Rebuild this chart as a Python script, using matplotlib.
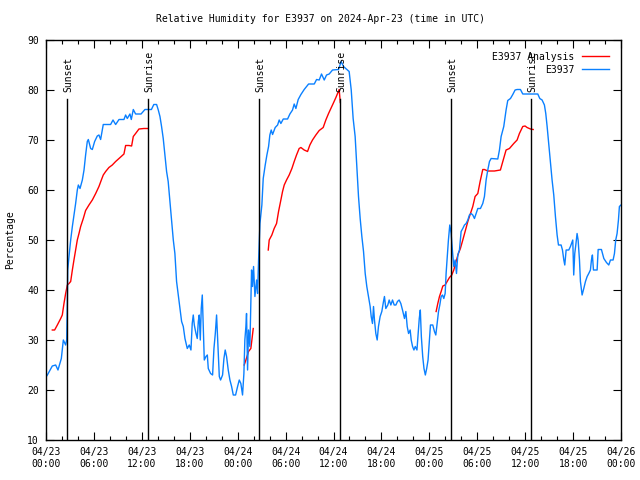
import numpy as np
import matplotlib
matplotlib.use("Agg")
import matplotlib.pyplot as plt
from matplotlib.ticker import MultipleLocator

title = "Relative Humidity for E3937 on 2024-Apr-23 (time in UTC)"
ylabel = "Percentage"

# hours since 2024-04-23 00:00 UTC
obs_hours = [0.0, 0.17, 0.79, 1.21, 1.5, 1.92, 2.17, 2.46, 2.59, 2.67, 2.72, 2.88, 3.09, 3.3, 3.5, 3.71, 3.92, 4.05, 4.26, 4.55, 4.76, 4.96, 5.17, 5.3, 5.59, 5.8, 6.09, 6.42, 6.63, 6.84, 7.17, 8.09, 8.39, 8.72, 9.14, 9.76, 9.97, 10.18, 10.51, 10.68, 10.93, 11.22, 11.9, 12.39, 13.2, 13.5, 13.85, 14.06, 14.27, 14.47, 14.68, 14.89, 15.1, 15.3, 15.52, 15.73, 15.94, 16.14, 16.35, 16.56, 16.77, 16.98, 17.19, 17.4, 17.69, 17.94, 18.15, 18.31, 18.44, 18.57, 18.78, 18.94, 19.07, 19.19, 19.32, 19.44, 19.57, 19.69, 19.82, 20.03, 20.2, 20.32, 20.61, 20.86, 21.03, 21.2, 21.36, 21.53, 21.7, 21.86, 22.11, 22.28, 22.44, 22.61, 22.82, 23.03, 23.24, 23.45, 23.74, 23.99, 24.2, 24.4, 24.61, 24.78, 24.9, 25.03, 25.11, 25.24, 25.36, 25.53, 25.65, 25.74, 25.86, 25.99, 26.16, 26.37, 26.49, 26.62, 26.7, 26.79, 27.03, 27.2, 27.45, 27.66, 27.87, 28.03, 28.2, 28.37, 28.7, 29.0, 29.2, 29.41, 29.71, 30.25, 30.54, 30.87, 31.08, 31.29, 31.58, 31.92, 32.33, 32.63, 32.88, 33.59, 33.88, 34.21, 34.5, 34.84, 35.13, 35.46, 35.88, 36.63, 36.96, 37.25, 37.67, 37.96, 38.22, 38.46, 38.71, 38.92, 39.13, 39.34, 39.55, 39.76, 39.97, 40.17, 40.38, 40.59, 40.72, 40.88, 41.01, 41.13, 41.3, 41.47, 41.63, 41.84, 42.05, 42.26, 42.38, 42.55, 42.8, 42.97, 43.18, 43.39, 43.6, 43.81, 44.01, 44.22, 44.43, 44.64, 44.89, 45.06, 45.23, 45.4, 45.6, 45.73, 45.9, 46.07, 46.24, 46.45, 46.58, 46.74, 46.87, 47.0, 47.17, 47.33, 47.5, 47.67, 47.84, 48.01, 48.14, 48.43, 48.64, 48.81, 48.98, 49.15, 49.31, 49.48, 49.65, 49.81, 49.98, 50.1, 50.23, 50.39, 50.56, 50.73, 50.9, 51.06, 51.23, 51.4, 51.56, 51.77, 51.98, 52.19, 52.4, 52.61, 52.82, 53.02, 53.23, 53.44, 53.65, 53.86, 54.07, 54.4, 54.69, 54.9, 55.11, 55.32, 55.53, 55.74, 56.57, 56.78, 56.99, 57.32, 57.61, 57.82, 58.16, 58.45, 58.74, 58.99, 59.41, 59.7, 61.58, 61.83, 62.12, 62.41, 62.58, 62.75, 62.95, 63.16, 63.37, 63.58, 63.79, 64.0, 64.17, 64.5, 64.67, 64.84, 64.96, 65.13, 65.46, 65.67, 65.96, 66.08, 66.21, 66.34, 66.5, 66.63, 66.8, 66.92, 67.13, 67.34, 67.55, 67.76, 67.96, 68.17, 68.3, 68.42, 68.55, 69.01, 69.14, 69.55, 69.85, 70.18, 70.47, 70.68, 71.01, 71.18, 71.34, 71.51, 71.68, 71.8, 72.0]
obs_values = [22.6, 23.0, 24.8, 25.0, 24.0, 26.3, 30.0, 29.0, 30.0, 37.3, 44.0, 46.7, 50.0, 52.7, 55.0, 57.3, 60.0, 61.0, 60.3, 62.0, 64.0, 67.0, 69.7, 70.1, 68.3, 68.1, 69.7, 70.8, 71.0, 70.1, 73.1, 73.1, 74.0, 73.1, 74.1, 74.1, 75.0, 74.3, 75.2, 74.1, 76.1, 75.2, 75.2, 76.1, 76.1, 77.1, 77.1, 76.0, 74.7, 72.7, 70.3, 67.0, 63.7, 61.7, 57.7, 54.0, 50.0, 47.3, 41.7, 39.0, 36.3, 33.7, 32.7, 30.3, 28.3, 29.0, 28.0, 33.3, 35.0, 33.0, 31.3, 30.3, 33.7, 35.0, 30.0, 36.3, 39.0, 33.0, 26.0, 26.7, 27.0, 24.3, 23.3, 23.0, 28.3, 31.3, 35.0, 29.0, 22.7, 22.0, 23.0, 26.3, 28.0, 26.7, 24.0, 22.0, 20.7, 19.0, 19.0, 20.7, 22.0, 21.3, 19.0, 23.3, 30.0, 32.7, 35.3, 24.0, 32.0, 28.7, 38.0, 44.0, 40.7, 44.7, 38.7, 42.0, 39.3, 46.0, 49.3, 53.3, 57.0, 62.3, 65.0, 67.0, 68.7, 71.0, 72.0, 71.1, 72.5, 73.0, 74.0, 73.3, 74.2, 74.2, 75.2, 76.0, 77.2, 76.3, 78.1, 79.1, 80.1, 80.7, 81.2, 81.2, 82.1, 82.0, 83.2, 82.0, 83.0, 83.2, 84.0, 84.1, 85.7, 84.7, 84.1, 83.7, 80.0, 74.3, 70.7, 64.7, 58.7, 54.3, 50.7, 47.7, 43.3, 40.7, 38.7, 36.7, 34.7, 33.3, 36.7, 34.0, 31.3, 30.0, 32.7, 34.7, 35.7, 37.7, 38.7, 36.3, 37.0, 38.0, 37.0, 38.0, 37.0, 37.0, 37.7, 38.0, 37.3, 36.0, 34.3, 35.7, 32.7, 31.3, 32.0, 30.0, 28.7, 28.0, 28.7, 28.0, 30.7, 34.3, 36.0, 30.7, 26.7, 24.3, 23.0, 24.3, 26.0, 30.0, 33.0, 33.0, 31.7, 31.0, 33.3, 35.7, 37.0, 38.7, 39.0, 38.3, 39.3, 43.3, 46.3, 50.0, 53.0, 51.3, 47.7, 44.7, 46.0, 43.3, 47.0, 48.0, 51.7, 52.3, 53.0, 53.3, 54.0, 55.0, 55.3, 55.0, 54.3, 55.3, 56.3, 56.3, 57.3, 58.7, 62.0, 64.0, 65.7, 66.3, 66.2, 68.0, 70.7, 72.7, 76.0, 77.9, 78.3, 79.1, 80.0, 80.1, 80.1, 79.2, 79.2, 78.3, 78.0, 77.0, 75.3, 72.7, 69.3, 65.7, 62.0, 59.0, 54.7, 51.0, 49.0, 49.0, 48.0, 46.0, 45.0, 48.0, 48.0, 48.7, 50.0, 43.0, 47.3, 49.0, 51.3, 50.0, 46.0, 41.7, 39.0, 40.3, 41.7, 42.7, 43.3, 44.0, 46.0, 47.0, 44.0, 44.0, 48.1, 48.1, 46.3, 45.5, 45.0, 46.0, 46.0, 47.3, 50.0, 51.3, 54.0, 56.7, 57.0]

# analysis series (NaN = gap)
nan = float("nan")
ana_hours = [0.79, 1.08, 1.42, 1.84, 2.04, 2.25, 2.46, 2.67, 2.88, 3.09, 3.3, 3.5, 3.71, 3.92, 4.13, 4.34, 4.67, 4.96, 5.38, 5.8, 6.22, 6.63, 6.93, 7.17, 7.47, 7.88, 8.3, 8.72, 9.14, 9.76, 9.97, 10.39, 10.72, 10.93, 11.22, 11.64, 12.26, 12.8,
             18.0,
             24.82, 25.03, 25.36, 25.65, 25.78, 25.95,
             27.0,
             27.83, 27.95, 28.28, 28.57, 28.87, 29.12, 29.41, 29.62, 29.83, 30.12, 30.45, 30.79, 31.08, 31.37, 31.7, 31.92, 32.33, 32.75, 33.04, 33.37, 33.79, 34.21, 34.71, 35.04, 35.38, 35.67, 35.96, 36.3, 36.71, 36.85,
             42.0,
             48.85, 49.06, 49.27, 49.48, 49.69, 49.98, 50.23, 50.52, 50.81, 51.06, 51.35, 51.64, 51.89, 52.19, 52.48, 52.82, 53.15, 53.44, 53.73, 54.07, 54.36, 54.69, 54.9, 55.32, 56.15, 56.9, 57.2, 57.61, 58.03, 58.57, 58.99, 59.28, 59.7, 59.99, 60.24, 60.66, 61.0]
ana_values = [32.0, 32.0, 33.0, 34.3, 35.0, 37.3, 39.3, 41.0, 41.3, 41.7, 44.0, 46.0, 48.0, 50.0, 51.3, 52.7, 54.3, 55.9, 57.0, 58.0, 59.3, 60.7, 62.0, 63.0, 63.7, 64.5, 65.0, 65.7, 66.3, 67.2, 68.9, 68.9, 68.8, 70.7, 71.3, 72.2, 72.3, 72.3,
              nan,
              25.0, 26.0, 27.7, 28.3, 30.0, 32.3,
              nan,
              48.0, 50.0, 51.0, 52.3, 53.3, 55.7, 58.0, 59.7, 61.0, 62.0, 63.0, 64.3, 65.7, 67.0, 68.3, 68.5, 68.0, 67.7, 69.0, 70.0, 71.0, 71.9, 72.5, 74.0, 75.3, 76.3, 77.3, 78.5, 80.1, 77.5,
              nan,
              35.7, 37.3, 38.7, 39.7, 40.8, 41.0, 41.7, 42.5, 43.0, 44.0, 45.7, 47.3, 48.3, 50.0, 51.7, 53.7, 55.3, 56.7, 58.7, 59.3, 61.7, 64.1, 64.1, 63.8, 63.8, 64.0, 65.7, 68.0, 68.3, 69.3, 70.0, 71.3, 72.7, 72.8, 72.5, 72.2, 72.1]

sun_hours = [2.67, 12.8, 26.7, 36.83, 50.73, 60.74]
sun_labels = ["Sunset", "Sunrise", "Sunset", "Sunrise", "Sunset", "Sunrise"]
sun_line_top = 78.2

tick_hours = list(range(0, 73, 6))
tick_labels = ["04/23\n00:00", "04/23\n06:00", "04/23\n12:00", "04/23\n18:00",
               "04/24\n00:00", "04/24\n06:00", "04/24\n12:00", "04/24\n18:00",
               "04/25\n00:00", "04/25\n06:00", "04/25\n12:00", "04/25\n18:00",
               "04/26\n00:00"]

FONT = "DejaVu Sans Mono"
FS = 7

fig = plt.figure(figsize=(6.4, 4.8), dpi=100)
ax = fig.add_axes([46/640, 40/480, 575/640, 400/480])

ax.plot(ana_hours, ana_values, color="#ff0000", lw=1.0, label="E3937 Analysis")
ax.plot(obs_hours, obs_values, color="#0a80ff", lw=1.0, label="E3937")

for h, lab in zip(sun_hours, sun_labels):
    ax.plot([h, h], [10, sun_line_top], color="black", lw=1.0, zorder=5)
    ax.text(h + 0.15, sun_line_top + 1.3, lab, rotation=90, ha="center", va="bottom",
            fontsize=FS, family=FONT, zorder=6)

ax.set_xlim(0, 72)
ax.set_ylim(10, 90)
ax.set_xticks(tick_hours)
ax.set_xticklabels(tick_labels, family=FONT, fontsize=FS)
ax.xaxis.set_minor_locator(MultipleLocator(2))
ax.set_yticks(range(10, 91, 10))
ax.set_yticklabels([str(v) for v in range(10, 91, 10)], family=FONT, fontsize=FS)
ax.tick_params(axis="both", which="major", direction="in", length=6, width=0.8,
               top=True, right=True, pad=5)
ax.tick_params(axis="x", which="minor", direction="in", length=3, width=0.8, top=True)
for s in ax.spines.values():
    s.set_linewidth(1.0)

fig.text(0.5, 1 - 19/480, title, ha="center", va="center", fontsize=FS, family=FONT)
fig.text(10/640, 0.5, ylabel, rotation=90, ha="center", va="center", fontsize=FS, family=FONT)

leg = ax.legend(loc="upper right", frameon=False, prop={"family": FONT, "size": FS},
                handlelength=2.8, markerfirst=False, borderaxespad=0.8,
                handletextpad=0.8, labelspacing=0.3)

fig.savefig("out.png", dpi=100)
